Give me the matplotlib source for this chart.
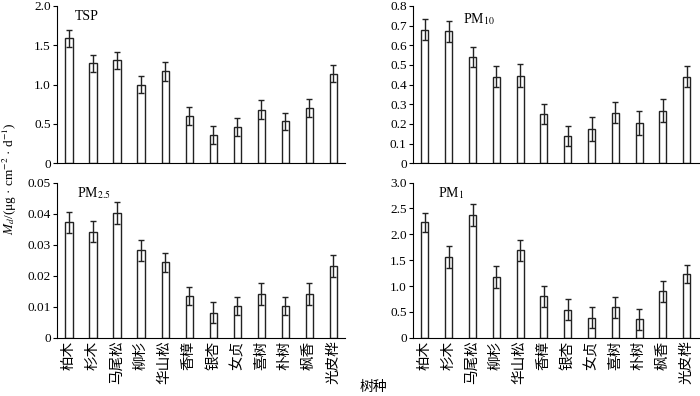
import numpy as np
import matplotlib
matplotlib.use("Agg")
import matplotlib.pyplot as plt

plt.rcParams['font.family'] = ['Liberation Serif', 'Noto Sans CJK SC']
plt.rcParams['mathtext.fontset'] = 'stix'

# tree species
species = ["柏木", "杉木", "马尾松", "柳杉", "华山松", "香樟", "银杏", "女贞", "喜树", "朴树", "枫香", "光皮桦"]

# deposition per panel: mean and error
tsp = [1.59, 1.27, 1.31, 1.00, 1.17, 0.60, 0.36, 0.46, 0.68, 0.53, 0.70, 1.14]
tsp_err = [0.11, 0.11, 0.11, 0.11, 0.12, 0.11, 0.11, 0.11, 0.12, 0.11, 0.11, 0.11]
pm10 = [0.68, 0.672, 0.538, 0.439, 0.446, 0.25, 0.138, 0.175, 0.257, 0.204, 0.267, 0.439]
pm10_err = [0.053, 0.053, 0.051, 0.053, 0.061, 0.05, 0.051, 0.06, 0.054, 0.062, 0.058, 0.053]
pm25 = [0.0372, 0.0342, 0.0402, 0.0282, 0.0243, 0.0133, 0.0081, 0.0103, 0.0141, 0.0103, 0.0141, 0.0231]
pm25_err = [0.0034, 0.0033, 0.0034, 0.0034, 0.003, 0.0029, 0.0034, 0.0029, 0.0034, 0.0029, 0.0034, 0.0035]
pm1 = [2.23, 1.56, 2.38, 1.18, 1.69, 0.80, 0.54, 0.39, 0.59, 0.36, 0.90, 1.23]
pm1_err = [0.18, 0.21, 0.21, 0.21, 0.20, 0.20, 0.20, 0.20, 0.20, 0.20, 0.20, 0.18]

panels = [
    ("TSP", tsp, tsp_err, [0.0, 0.5, 1.0, 1.5, 2.0], ["0", "0.5", "1.0", "1.5", "2.0"]),
    (r"PM$_{10}$", pm10, pm10_err, np.arange(0, 0.81, 0.1), ["0", "0.1", "0.2", "0.3", "0.4", "0.5", "0.6", "0.7", "0.8"]),
    (r"PM$_{2.5}$", pm25, pm25_err, [0, 0.01, 0.02, 0.03, 0.04, 0.05], ["0", "0.01", "0.02", "0.03", "0.04", "0.05"]),
    (r"PM$_{1}$", pm1, pm1_err, [0, 0.5, 1.0, 1.5, 2.0, 2.5, 3.0], ["0", "0.5", "1.0", "1.5", "2.0", "2.5", "3.0"]),
]

rects = [
    [0.0814, 0.588, 0.412, 0.397],
    [0.590, 0.588, 0.408, 0.397],
    [0.0814, 0.147, 0.412, 0.392],
    [0.590, 0.147, 0.408, 0.392],
]
name_pos = [(0.063, 0.93), (0.175, 0.917), (0.07, 0.93), (0.088, 0.935)]

fig = plt.figure(figsize=(7, 3.96), dpi=100)
x = np.arange(len(species))

for i, (name, vals, errs, ticks, tlabels) in enumerate(panels):
    ax = fig.add_axes(rects[i])
    ax.bar(x, vals, width=0.3, color="white", edgecolor="#222222", linewidth=1.0,
           yerr=errs, capsize=2.5, error_kw=dict(ecolor="#222222", elinewidth=1.0, capthick=1.0))
    ax.set_xlim(-0.5, len(species) - 0.5)
    ax.set_ylim(ticks[0], ticks[-1])
    ax.set_yticks(ticks)
    ax.set_yticklabels(tlabels, fontsize=9.5)
    ax.tick_params(axis="y", direction="out", length=3, width=0.8, pad=1.5)
    ax.tick_params(axis="x", length=0, pad=2)
    for s in ["top", "right"]:
        ax.spines[s].set_visible(False)
    ax.spines["left"].set_linewidth(0.8)
    ax.spines["bottom"].set_linewidth(0.8)
    ax.set_xticks(x)
    if i >= 2:
        ax.set_xticklabels(species, rotation=90, fontsize=10.5)
    else:
        ax.set_xticklabels([])
    ax.text(name_pos[i][0], name_pos[i][1], name, transform=ax.transAxes, fontsize=10,
            va="center")

fig.text(0.014, 0.55, r"$M_d$/(μg · cm$^{-2}$ · d$^{-1}$)", rotation=90, fontsize=9.5,
         ha="center", va="center")
fig.text(0.533, 0.005, "树种", fontsize=10, ha="center", va="bottom")

fig.savefig("out.png", dpi=100)
